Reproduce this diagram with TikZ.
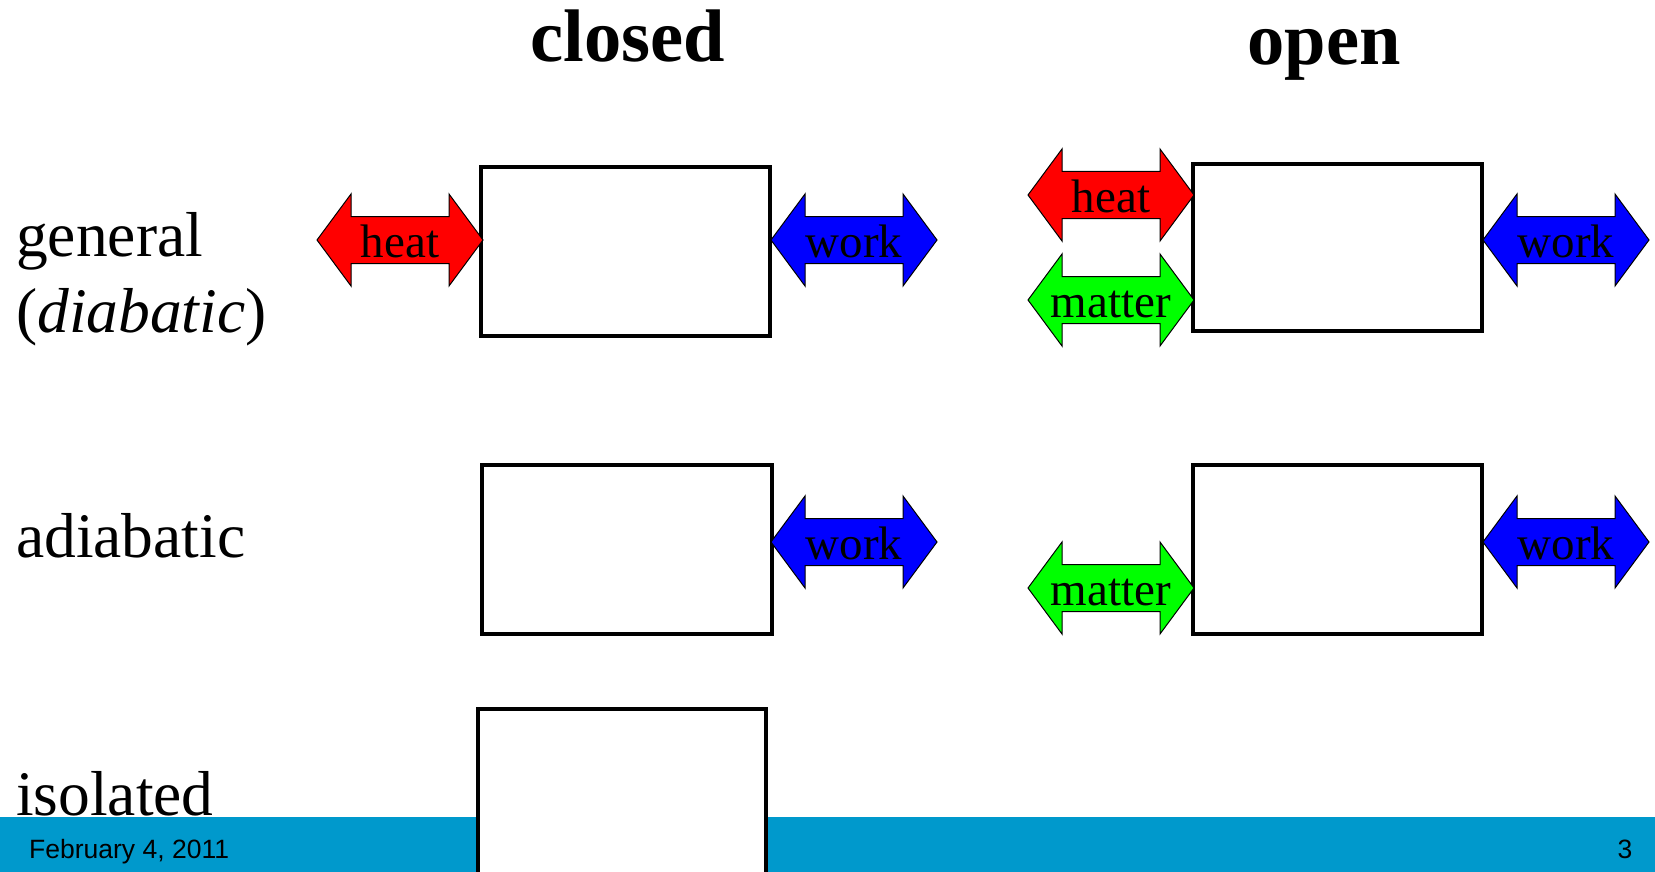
\documentclass[tikz,border=0pt]{standalone}
\usepackage{fontspec}
\setmainfont{Liberation Serif}
\newfontfamily\footfont{Liberation Sans}
\usetikzlibrary{calc}

\definecolor{bandblue}{HTML}{0099CC}
\definecolor{heatred}{HTML}{FF0000}
\definecolor{workblue}{HTML}{0000FF}
\definecolor{mattergreen}{HTML}{00FF00}

\tikzset{
  sysbox/.style={draw=black, line width=3.8pt, fill=white},
  arrowbody/.style={draw=black, line width=1pt, line join=miter},
  arrlabel/.style={anchor=base, inner sep=0pt, font=\fontsize{47}{50}\selectfont},
  rowlabel/.style={anchor=base west, inner sep=0pt, align=left, font=\fontsize{63.5}{76}\selectfont},
  coltitle/.style={anchor=base, inner sep=0pt, font=\fontsize{74.5}{80}\selectfont\bfseries},
  foottext/.style={inner sep=0pt, font=\footfont\fontsize{26.5}{30}\selectfont}
}

% double-headed block arrow centred at (#2,#3), filled with #4, labelled #5
\newcommand{\exchange}[5]{%
  \begin{scope}[shift={(#2,#3)}]
    \draw[arrowbody, fill=#4] (-83,0) -- (-49,-46) -- (-49,-23.5) -- (49,-23.5) -- (49,-46)
      -- (83,0) -- (49,46) -- (49,23.5) -- (-49,23.5) -- (-49,46) -- cycle;
    \node[arrlabel] (#1) at (0,17) {#5};
  \end{scope}}

\begin{document}
\begin{tikzpicture}[x=1pt, y=-1pt]
  \useasboundingbox (0,0) rectangle (1655,872);
  \fill[white] (0,0) rectangle (1655,872);

  % footer band
  \fill[bandblue] (0,817) rectangle (1655,872);
  \node[foottext, anchor=base west] (date) at (29,858) {February 4, 2011};
  \node[foottext, anchor=base] (page) at (1625,858) {3};

  % column titles
  \node[coltitle] (closedtitle) at (628,62) {closed};
  \node[coltitle] (opentitle) at (1324,65) {open};

  % row labels
  \node[rowlabel] (general) at (16,256) {general};
  \node[rowlabel] (diabatic) at (16,332) {(\textit{diabatic})};
  \node[rowlabel] (adiabatic) at (16,557) {adiabatic};

  % closed systems
  \draw[sysbox] (481,167) rectangle (770,336);
  \exchange{cgheat}{400}{240}{heatred}{heat}
  \exchange{cgwork}{854}{240}{workblue}{work}

  \draw[sysbox] (482,465) rectangle (772,634);
  \exchange{cawork}{854}{542}{workblue}{work}

  \draw[sysbox] (478,709) rectangle (766,900);
  \node[rowlabel] (isolated) at (16,815) {isolated};

  % open systems
  \draw[sysbox] (1193,164) rectangle (1482,331);
  \exchange{ogheat}{1111}{195}{heatred}{heat}
  \exchange{ogmatter}{1111}{300}{mattergreen}{matter}
  \exchange{ogwork}{1566}{240}{workblue}{work}

  \draw[sysbox] (1193,465) rectangle (1482,634);
  \exchange{oamatter}{1111}{588}{mattergreen}{matter}
  \exchange{oawork}{1566}{542}{workblue}{work}
\end{tikzpicture}
\end{document}
